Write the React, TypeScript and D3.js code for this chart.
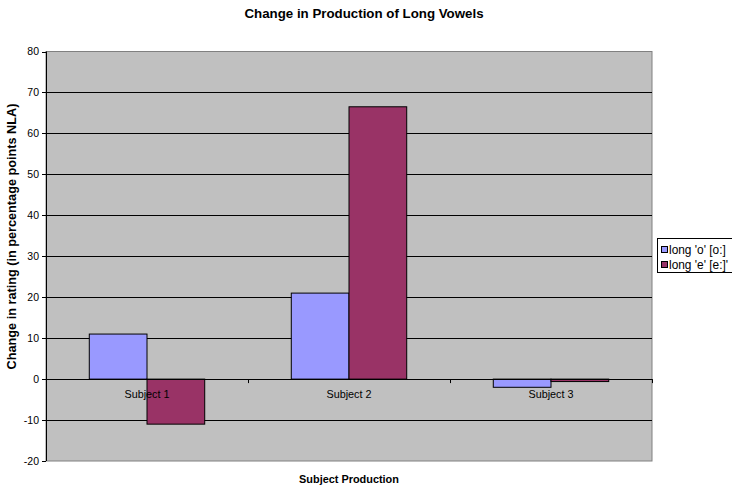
import React from "react";
import * as d3 from "d3";

const categories = ["Subject 1", "Subject 2", "Subject 3"];
const seriesNames = ["long 'o' [o:]", "long 'e' [e:]'"];
const longO = [11, 21, -2];
const longE = [-11, 66.5, -0.6];
const yTicks = [-20, -10, 0, 10, 20, 30, 40, 50, 60, 70, 80];

const colors = ["#9999FF", "#993366"];
const FONT = "'Liberation Sans', Arial, sans-serif";

export default function App() {
  const W = 732, H = 490;
  const left = 46, right = 652, top = 51.5, bottom = 461;

  const y = d3.scaleLinear().domain([-20, 80]).range([bottom, top]);
  const x = d3.scaleBand().domain(categories).range([left, right]).paddingInner(0).paddingOuter(0);
  // gap width 150%: two bars plus 1.5 bar-widths of gap per category
  const barW = x.bandwidth() / 3.5;
  const series = [longO, longE];

  return (
    <svg width={W} height={H} style={{ position: "absolute", left: 0, top: 0, fontFamily: FONT }}>
      <rect x={0} y={0} width={W} height={H} fill="#ffffff" />
      <text x={364} y={17.5} textAnchor="middle" fontSize={13.3} fontWeight="bold" fill="#000">
        Change in Production of Long Vowels
      </text>
      <rect x={left} y={top} width={right - left} height={bottom - top} fill="#C0C0C0" stroke="#808080" strokeWidth={1} />
      {yTicks.map((t) => (
        <g key={t}>
          {t !== -20 && t !== 80 && (
            <line x1={left} x2={right} y1={Math.round(y(t)) + 0.5} y2={Math.round(y(t)) + 0.5} stroke="#000" strokeWidth={1} />
          )}
          <line x1={left - 4} x2={left} y1={Math.round(y(t)) + 0.5} y2={Math.round(y(t)) + 0.5} stroke="#000" />
          <text x={left - 7} y={y(t)} dy="0.35em" textAnchor="end" fontSize={10.5} fill="#000">{t}</text>
        </g>
      ))}
      <line x1={left + 0.5} x2={left + 0.5} y1={top} y2={bottom} stroke="#000" />
      {series.map((vals, si) =>
        vals.map((v, ci) => {
          const bx = (x(categories[ci]) as number) + barW * 0.75 + si * barW;
          const y0 = y(0), y1 = y(v);
          return (
            <rect key={`${si}-${ci}`} x={bx} y={Math.min(y0, y1)} width={barW} height={Math.abs(y1 - y0)}
              fill={colors[si]} stroke="#000" strokeWidth={1} />
          );
        })
      )}
      <line x1={left} x2={right} y1={Math.round(y(0)) + 0.5} y2={Math.round(y(0)) + 0.5} stroke="#000" />
      {categories.map((c, i) => (
        <g key={c}>
          {i > 0 && (
            <line x1={(x(c) as number) + 0.5} x2={(x(c) as number) + 0.5} y1={y(0)} y2={y(0) + 4} stroke="#000" />
          )}
          <text x={(x(c) as number) + x.bandwidth() / 2} y={y(0) + 19} textAnchor="middle" fontSize={10.8} fill="#000">{c}</text>
        </g>
      ))}
      <line x1={right + 0.5} x2={right + 0.5} y1={y(0)} y2={y(0) + 4} stroke="#000" />
      <text x={349} y={483} textAnchor="middle" fontSize={10.9} fontWeight="bold" fill="#000">Subject Production</text>
      <text transform={`translate(16,236.5) rotate(-90)`} textAnchor="middle" fontSize={12.7} fontWeight="bold" fill="#000">
        Change in rating (in percentage points NLA)
      </text>
      <g>
        <rect x={657.5} y={238.5} width={76} height={34} fill="#fff" stroke="#000" />
        {seriesNames.map((n, i) => (
          <g key={n}>
            <rect x={661.5} y={246.5 + i * 15} width={6} height={6} fill={colors[i]} stroke="#000" />
            <text x={669} y={249.7 + i * 15.3} dy="0.35em" fontSize={11.9} fill="#000">{n}</text>
          </g>
        ))}
      </g>
    </svg>
  );
}
